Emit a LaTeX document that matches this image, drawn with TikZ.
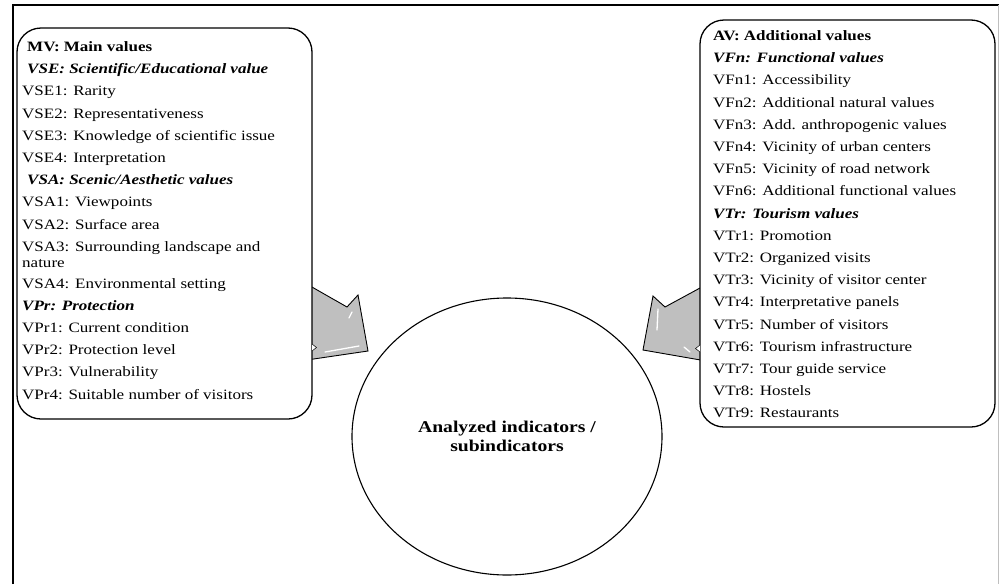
\documentclass[tikz,border=0pt]{standalone}
\usepackage{fontspec}
\setmainfont[FakeStretch=1.19]{Liberation Serif}
\usetikzlibrary{shapes.geometric}
\begin{document}
\begin{tikzpicture}[x=1pt,y=-1pt,
  box/.style={draw, line width=1.3pt, rounded corners=24pt, fill=white, inner sep=0pt},
  item/.style={anchor=base west, inner sep=0pt, font=\fontsize{14.3}{16}\selectfont},
  blockarrow/.style={draw=black, line width=0.9pt, fill=black!25, line join=miter},
  shine/.style={draw=white, line width=1.3pt, line cap=round},
  notch/.style={draw=black, line width=0.5pt, fill=white}]
\useasboundingbox (0,0) rectangle (999,584);
% outer frame
\draw[line width=1.5pt] (13,584) -- (13,5) -- (999,5);
\draw[black!25, line width=0.8pt] (998,5) -- (998,584);
% block arrows
\draw[blockarrow] (290,274.5) -- (347,307) -- (358,295) -- (368,351) -- (300,361) -- (290,340) -- cycle;
\draw[shine] (325,352) -- (359,346);
\draw[shine] (349,318) -- (352,312);
\draw[blockarrow] (712,281.5) -- (665,307) -- (653,296) -- (643,350) -- (712,362) -- cycle;
\draw[shine] (658,309) -- (657,330);
\draw[shine] (684,347) -- (690,352);
% boxes
\node[box, minimum width=295pt, minimum height=391pt] (mv) at (164.5,223.5) {};
\node[box, minimum width=295pt, minimum height=407pt] (av) at (847.5,223.5) {};
\draw[notch] (312,344) -- (316.5,347.5) -- (312,351);
\draw[notch] (700,345) -- (695.5,348.5) -- (700,352);
% left texts
\node[item] (l0) at (27,51.5) {\textbf{MV: Main values}};
\node[item] (l1) at (27,73.7) {\textbf{\textit{VSE: Scientific/Educational value}}};
\node[item] (l2) at (22,95.9) {VSE1: Rarity};
\node[item] (l3) at (22,118.1) {VSE2: Representativeness};
\node[item] (l4) at (22,140.3) {VSE3: Knowledge of scientific issue};
\node[item] (l5) at (22,162.5) {VSE4: Interpretation};
\node[item] (l6) at (27,184.7) {\textbf{\textit{VSA: Scenic/Aesthetic values}}};
\node[item] (l7) at (22,206.9) {VSA1: Viewpoints};
\node[item] (l8) at (22,229.1) {VSA2: Surface area};
\node[item] (l9) at (22,251.3) {VSA3: Surrounding landscape and};
\node[item] (l9b) at (22,267.5) {nature};
\node[item] (l10) at (22,288) {VSA4: Environmental setting};
\node[item] (l11) at (22,310.2) {\textbf{\textit{VPr: Protection}}};
\node[item] (l12) at (22,332.4) {VPr1: Current condition};
\node[item] (l13) at (22,354.6) {VPr2: Protection level};
\node[item] (l14) at (22,376.8) {VPr3: Vulnerability};
\node[item] (l15) at (22,399) {VPr4: Suitable number of visitors};
% right texts
\foreach \t [count=\i from 0] in {{\textbf{AV: Additional values}},
  {\textbf{\textit{VFn: Functional values}}},
  VFn1: Accessibility,
  VFn2: Additional natural values,
  VFn3: Add. anthropogenic values,
  VFn4: Vicinity of urban centers,
  VFn5: Vicinity of road network,
  VFn6: Additional functional values,
  {\textbf{\textit{VTr: Tourism values}}},
  VTr1: Promotion,
  VTr2: Organized visits,
  VTr3: Vicinity of visitor center,
  VTr4: Interpretative panels,
  VTr5: Number of visitors,
  VTr6: Tourism infrastructure,
  VTr7: Tour guide service,
  VTr8: Hostels,
  VTr9: Restaurants}
  \node[item] (r\i) at (713,{40.5+22.2*\i}) {\t};
% central ellipse
\node[ellipse, draw, line width=1.1pt, minimum width=310pt, minimum height=277pt,
  align=center, font=\fontsize{16.5}{19.5}\selectfont\bfseries] (core) at (507,436.5)
  {Analyzed indicators /\\subindicators};
\end{tikzpicture}
\end{document}
